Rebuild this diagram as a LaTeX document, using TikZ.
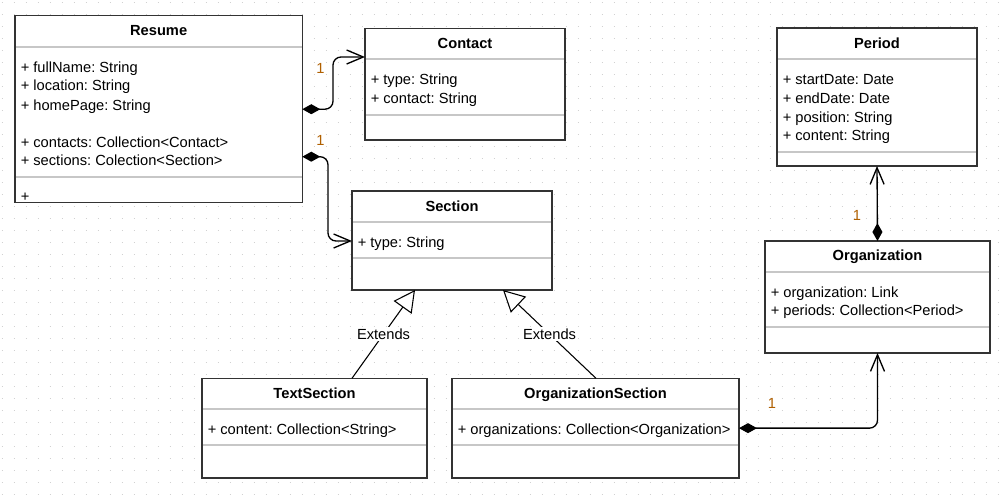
\documentclass[tikz,border=0pt]{standalone}
\usepackage{fontspec}
\setmainfont{Liberation Sans}
\usetikzlibrary{arrows.meta}
\definecolor{multc}{RGB}{176,96,0}
\frenchspacing
\newcommand\umlclass[5]{%
  \pgfmathsetmacro\ucx{(#2+#4)/2}%
  \pgfmathsetmacro\ucy{(#3+#5)/2}%
  \pgfmathsetmacro\ucw{(#4-#2)*0.75}%
  \pgfmathsetmacro\uch{(#5-#3)*0.75}%
  \node[classbox, minimum width=\ucw pt, minimum height=\uch pt] (#1) at (\ucx,\ucy) {};}
\newcommand\umlsep[2]{\draw[sepline] (#1.west |- 0,#2) -- (#1.east |- 0,#2);}
\newcommand\umlborder[1]{\draw[border] (#1.north west) rectangle (#1.south east);}
\begin{document}
\begin{tikzpicture}[x=0.75pt, y=-0.75pt,
  font=\fontsize{11}{13}\selectfont\frenchspacing,
  classbox/.style={rectangle, fill=white, inner sep=0pt, outer sep=0pt},
  border/.style={draw=black!80, line width=1.1pt},
  sepline/.style={draw=black!22, line width=1.6pt},
  attr/.style={anchor=base west, inner sep=0pt},
  ctitle/.style={anchor=base, inner sep=0pt, font=\fontsize{11}{13}\selectfont\bfseries},
  mult/.style={text=multc, inner sep=0pt},
  comp/.style={draw=black, line width=1pt, rounded corners=6pt,
    {Diamond[length=13.5pt,width=7.5pt]}-{Straight Barb[length=12.5pt,width=10.5pt]}},
  gen/.style={draw=black, line width=0.8pt,
    -{Triangle[open,length=16pt,width=16.5pt,fill=white]}},
  extlabel/.style={fill=white, inner sep=1pt},
  griddot/.style={draw=black!18, line width=0.75pt, dash pattern=on 0.75pt off 8.25pt}]

\useasboundingbox (0,0) rectangle (1003,497);
\fill[white] (0,0) rectangle (1003,497);
\foreach \j in {0,...,41}{
  \draw[griddot] (1.5,2+12*\j) -- (1003,2+12*\j);
}

% ---------- Resume ----------
\umlclass{resume}{15}{15.7}{302.3}{202.7}
\umlsep{resume}{47}
\umlsep{resume}{177}
\umlborder{resume}
\node[ctitle] (resumeT) at (158.65,35) {Resume};
\node[attr] (resumeA1) at (20.5,72.7) {+ fullName: String};
\node[attr] (resumeA2) at (20.5,90.7) {+ location: String};
\node[attr] (resumeA3) at (20.5,110) {+ homePage: String};
\node[attr] (resumeA4) at (20.5,147.3) {+ contacts: Collection<Contact>};
\node[attr] (resumeA5) at (20.5,165.3) {+ sections: Colection<Section>};
\node[attr] (resumeM1) at (20.5,201.7) {+};

% ---------- Contact ----------
\umlclass{contact}{365}{28.3}{565}{140}
\umlsep{contact}{59}
\umlsep{contact}{115}
\umlborder{contact}
\node[ctitle] (contactT) at (465,48.3) {Contact};
\node[attr] (contactA1) at (370.5,84) {+ type: String};
\node[attr] (contactA2) at (370.5,103.3) {+ contact: String};

% ---------- Section ----------
\umlclass{section}{352}{191}{552}{290}
\umlsep{section}{222}
\umlsep{section}{258.3}
\umlborder{section}
\node[ctitle] (sectionT) at (452,211) {Section};
\node[attr] (sectionA1) at (357.5,247.7) {+ type: String};

% ---------- Period ----------
\umlclass{period}{777}{28}{977}{166}
\umlsep{period}{59}
\umlsep{period}{152.3}
\umlborder{period}
\node[ctitle] (periodT) at (877,48) {Period};
\node[attr] (periodA1) at (782.5,84) {+ startDate: Date};
\node[attr] (periodA2) at (782.5,103.3) {+ endDate: Date};
\node[attr] (periodA3) at (782.5,122.3) {+ position: String};
\node[attr] (periodA4) at (782.5,140.7) {+ content: String};

% ---------- Organization ----------
\umlclass{org}{765}{241}{990}{353}
\umlsep{org}{272}
\umlsep{org}{327}
\umlborder{org}
\node[ctitle] (orgT) at (877.5,260.7) {Organization};
\node[attr] (orgA1) at (770.5,297.3) {+ organization: Link};
\node[attr] (orgA2) at (770.5,315.7) {+ periods: Collection<Period>};

% ---------- TextSection ----------
\umlclass{tsec}{202}{378.3}{427}{478}
\umlsep{tsec}{409.3}
\umlsep{tsec}{445.3}
\umlborder{tsec}
\node[ctitle] (tsecT) at (314.5,398.3) {TextSection};
\node[attr] (tsecA1) at (207.5,434) {+ content: Collection<String>};

% ---------- OrganizationSection ----------
\umlclass{osec}{452}{378.3}{739}{478}
\umlsep{osec}{409.3}
\umlsep{osec}{445.3}
\umlborder{osec}
\node[ctitle] (osecT) at (595.5,398.3) {OrganizationSection};
\node[attr] (osecA1) at (457.5,434) {+ organizations: Collection<Organization>};

% ---------- connectors ----------
\draw[comp] (resume.east) -| (333,57) -- (contact.west |- 0,57);
\draw[comp] (resume.east |- 0,156.7) -| (328,241) -- (section.west |- 0,241);
\draw[comp] (org.north) -- (period.south);
\draw[comp] (osec.east) -| (org.south);
\draw[gen] (352,0 |- tsec.north) -- node[extlabel] (ext1) {Extends} (415,0 |- section.south);
\draw[gen] (596,0 |- osec.north) -- node[extlabel] (ext2) {Extends} (503,0 |- section.south);

% ---------- multiplicities ----------
\node[mult] (m1) at (320.5,68.5) {1};
\node[mult] (m2) at (320.5,140) {1};
\node[mult] (m3) at (857,215) {1};
\node[mult] (m4) at (772,403) {1};
\end{tikzpicture}
\end{document}
